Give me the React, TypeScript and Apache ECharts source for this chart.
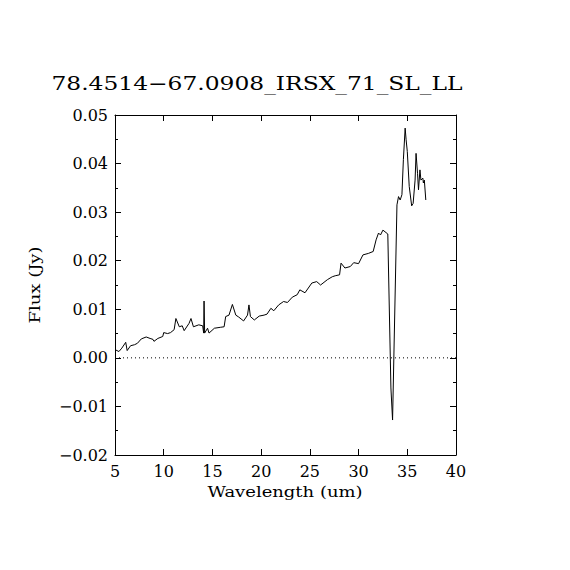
import React, { useEffect, useRef } from "react";
import * as echarts from "echarts";

const titleText = "78.4514\u221267.0908_IRSX_71_SL_LL";
const xName = "Wavelength (um)";
const yName = "Flux (Jy)";

const wavelength = [
  5.1, 5.4, 5.7, 6.1, 6.25, 6.6, 7.0, 7.3, 7.7, 8.2, 8.6, 8.9, 9.0, 9.4, 9.9, 10.0,
  10.4, 10.7, 11.07, 11.25, 11.6, 11.9, 12.1, 12.6, 12.8, 13.05, 13.6, 14.0, 14.1,
  14.14, 14.2, 14.5, 14.65, 15.2, 15.85, 16.2, 16.36, 16.7, 17.05, 17.4, 17.7, 18.2,
  18.6, 18.75, 18.9, 19.3, 19.8, 20.3, 20.6, 21.0, 21.3, 21.8, 22.3, 22.7, 23.2, 23.7,
  23.97, 24.5, 25.2, 25.7, 26.1, 26.8, 27.3, 27.6, 28.05, 28.2, 28.6, 29.15, 29.5,
  30.0, 30.45, 31.0, 31.5, 31.8, 32.05, 32.25, 32.5, 33.0, 33.32, 33.49, 33.94, 34.1,
  34.27, 34.45, 34.6, 34.78, 34.88, 35.0, 35.2, 35.45, 35.6, 35.8, 35.9, 36.05, 36.15,
  36.3, 36.4, 36.6, 36.65, 36.75, 36.9,
];
const flux = [
  0.0016, 0.0013, 0.002, 0.0032, 0.0015, 0.0025, 0.0027, 0.003, 0.0039, 0.0043, 0.004,
  0.0038, 0.0034, 0.004, 0.0044, 0.0052, 0.005, 0.0052, 0.0058, 0.0081, 0.0064, 0.0066,
  0.0056, 0.0071, 0.0081, 0.0064, 0.0068, 0.0066, 0.0051, 0.0117, 0.0051, 0.0061, 0.0051,
  0.0061, 0.0063, 0.0064, 0.0085, 0.0088, 0.011, 0.0088, 0.0084, 0.0076, 0.0088, 0.0109,
  0.0085, 0.0078, 0.0086, 0.0088, 0.009, 0.0102, 0.0097, 0.0109, 0.0116, 0.0114, 0.0125,
  0.013, 0.014, 0.0134, 0.0154, 0.0157, 0.015, 0.0161, 0.0167, 0.0169, 0.0171, 0.0195,
  0.0185, 0.0188, 0.0196, 0.0194, 0.0212, 0.0215, 0.0219, 0.0243, 0.0257, 0.0253, 0.0263,
  0.0255, -0.0062, -0.0128, 0.0315, 0.0332, 0.0325, 0.0336, 0.0408, 0.0473, 0.0449,
  0.0425, 0.0353, 0.0313, 0.0318, 0.0366, 0.0421, 0.038, 0.0346, 0.0387, 0.0366, 0.037,
  0.036, 0.0366, 0.0325,
];
const zeroLine = [[5, 0], [40, 0]];

const FONT = "DejaVu Serif";

export default function App() {
  const ref = useRef<HTMLDivElement>(null);
  useEffect(() => {
    if (!ref.current) return;
    const chart = echarts.init(ref.current, null, { renderer: "svg" });
    const axisCommon = {
      type: "value",
      axisLine: { show: true, onZero: false, lineStyle: { color: "#000", width: 1 } },
      splitLine: { show: false },
    };
    const fmtY = (v: number) => {
      const s = (Math.round(v * 100) / 100).toFixed(2);
      return s.replace("-", "\u2212");
    };
    chart.setOption({
      animation: false,
      backgroundColor: "#fff",
      grid: { left: 115, top: 115, width: 341, height: 340, containLabel: false },
      xAxis: [
        {
          ...axisCommon,
          min: 5,
          max: 40,
          interval: 5,
          position: "bottom",
          axisTick: { show: true, inside: true, length: 6, lineStyle: { color: "#000" } },
          axisLabel: { color: "#000", fontFamily: FONT, fontSize: 16, margin: 8 },
        },
        {
          ...axisCommon,
          min: 5,
          max: 40,
          interval: 5,
          position: "top",
          axisTick: { show: true, inside: true, length: 6, lineStyle: { color: "#000" } },
          axisLabel: { show: false },
        },
      ],
      yAxis: [
        {
          ...axisCommon,
          min: -0.02,
          max: 0.05,
          interval: 0.01,
          position: "left",
          axisTick: { show: true, inside: true, length: 6, lineStyle: { color: "#000" } },
          minorTick: { show: true, splitNumber: 2, length: 3, lineStyle: { color: "#000" } },
          axisLabel: { color: "#000", fontFamily: FONT, fontSize: 16, margin: 7, formatter: fmtY },
        },
        {
          ...axisCommon,
          min: -0.02,
          max: 0.05,
          interval: 0.01,
          position: "right",
          axisTick: { show: true, inside: true, length: 6, lineStyle: { color: "#000" } },
          minorTick: { show: true, splitNumber: 2, length: 3, lineStyle: { color: "#000" } },
          axisLabel: { show: false },
        },
      ],
      series: [
        {
          type: "line",
          data: wavelength.map((w, i) => [w, flux[i]]),
          showSymbol: false,
          symbol: "none",
          lineStyle: { color: "#000", width: 1 },
          xAxisIndex: 0,
          yAxisIndex: 0,
        },
        {
          type: "line",
          data: zeroLine,
          showSymbol: false,
          symbol: "none",
          lineStyle: { color: "#000", width: 1, type: [1, 3] },
          xAxisIndex: 0,
          yAxisIndex: 0,
        },
      ],
      graphic: [
        {
          type: "text",
          x: 257,
          y: 83,
          scaleX: 1.23,
          style: {
            text: titleText,
            fontFamily: FONT,
            fontSize: 19,
            fill: "#000",
            align: "center",
            verticalAlign: "middle",
          },
        },
        {
          type: "text",
          x: 285,
          y: 492,
          scaleX: 1.2,
          style: {
            text: xName,
            fontFamily: FONT,
            fontSize: 15,
            fill: "#000",
            align: "center",
            verticalAlign: "middle",
          },
        },
        {
          type: "text",
          x: 35,
          y: 285,
          rotation: Math.PI / 2,
          scaleX: 1.2,
          style: {
            text: yName,
            fontFamily: FONT,
            fontSize: 15,
            fill: "#000",
            align: "center",
            verticalAlign: "middle",
          },
        },
      ],
    });
    return () => chart.dispose();
  }, []);
  return <div ref={ref} style={{ width: 570, height: 570, margin: -8 }} />;
}
